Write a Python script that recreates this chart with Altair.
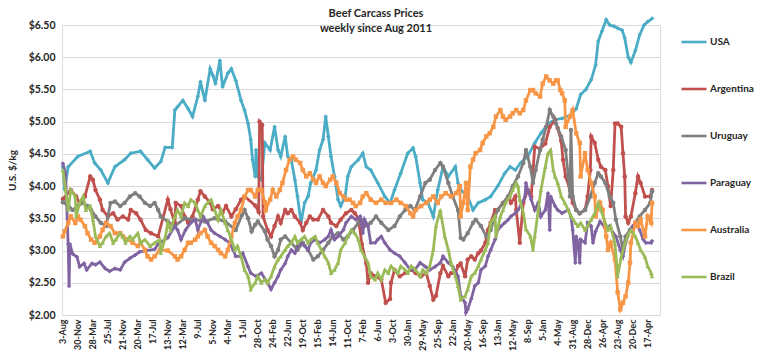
import altair as alt
import pandas as pd

title_lines = ["Beef Carcass Prices", "weekly since Aug 2011"]
y_title = "U.S. $/kg"
x_labels = ["3-Aug", "30-Nov", "28-Mar", "25-Jul", "21-Nov", "20-Mar", "17-Jul", "13-Nov",
            "12-Mar", "9-Jul", "5-Nov", "4-Mar", "1-Jul", "28-Oct", "24-Feb", "22-Jun",
            "19-Oct", "15-Feb", "14-Jun", "11-Oct", "7-Feb", "6-Jun", "3-Oct", "30-Jan",
            "29-May", "25-Sep", "22-Jan", "20-May", "16-Sep", "13-Jan", "12-May", "8-Sep",
            "5-Jan", "4-May", "31-Aug", "28-Dec", "26-Apr", "23-Aug", "20-Dec", "17-Apr"]
label_step_weeks = 17
y_ticks = [2.0, 2.5, 3.0, 3.5, 4.0, 4.5, 5.0, 5.5, 6.0, 6.5]

countries = ["USA", "Argentina", "Uruguay", "Paraguay", "Australia", "Brazil"]
colors = ["#4bacc6", "#c0504d", "#7f7f7f", "#8064a2", "#f79646", "#9bbb59"]
shapes = ["diamond", "circle", "circle", "diamond", "square", "triangle-up"]

# weeks since 3-Aug-2011 and US$/kg
usa_week = [0, 2, 6, 17, 31, 36, 43, 51, 59, 70, 77, 88, 96, 104, 111, 116, 124, 127, 130, 136,
            142, 147, 153, 156, 161, 167, 170, 173, 178, 181, 187, 191, 196, 202, 206, 210, 213, 215, 218, 219,
            221, 225, 229, 235, 240, 244, 247, 252, 255, 259, 263, 266, 270, 274, 278, 281, 287, 291, 295, 298,
            301, 304, 308, 312, 315, 320, 323, 327, 335, 340, 344, 349, 357, 365, 371, 376, 383, 391, 397, 400,
            405, 408, 414, 420, 425, 431, 437, 445, 448, 451, 459, 465, 471, 479, 485, 493, 501, 507, 513, 519,
            527, 535, 542, 550, 558, 566, 575, 582, 587, 593, 599, 604, 607, 611, 616, 620, 625, 629, 634, 637,
            641, 644, 649, 654, 659, 663, 668]
usa_price = [4.3, 3.95, 4.3, 4.46, 4.54, 4.36, 4.25, 4.05, 4.3, 4.41, 4.51, 4.54, 4.41, 4.28, 4.38, 4.6, 4.6, 5.18, 5.23, 5.33,
             5.2, 5.08, 5.39, 5.62, 5.33, 5.82, 5.72, 5.59, 5.95, 5.54, 5.75, 5.82, 5.64, 5.33, 5.18, 4.97, 4.72, 4.41, 4.15, 4.56,
             4.15, 4.1, 4.67, 4.56, 4.92, 4.56, 4.46, 4.77, 4.46, 4.41, 4.1, 3.84, 3.43, 3.74, 3.84, 4.05, 4.25, 4.56, 4.72, 5.08,
             4.77, 4.46, 4.15, 3.79, 3.69, 3.84, 4.15, 4.3, 4.41, 4.51, 4.3, 4.25, 4.05, 3.84, 3.74, 3.94, 4.2, 4.51, 4.59, 4.46,
             4.05, 3.79, 3.74, 3.53, 3.94, 4.3, 4.15, 4.3, 4.05, 3.94, 3.84, 3.63, 3.74, 3.79, 3.84, 4.0, 4.2, 4.3, 4.25, 4.36,
             4.46, 4.67, 4.82, 4.97, 5.03, 5.05, 5.1, 5.2, 5.42, 5.5, 5.65, 5.88, 6.25, 6.4, 6.58, 6.5, 6.48, 6.45, 6.42, 6.3,
             6.0, 5.92, 6.1, 6.35, 6.5, 6.55, 6.6]

arg_week = [0, 9, 15, 19, 25, 31, 34, 37, 42, 45, 51, 57, 62, 68, 74, 77, 83, 88, 94, 100,
            108, 119, 122, 127, 128, 134, 138, 142, 147, 153, 156, 161, 167, 170, 176, 181, 185, 191, 196, 202,
            206, 218, 222, 223, 226, 227, 232, 236, 240, 244, 247, 252, 255, 259, 263, 269, 272, 276, 280, 284,
            289, 295, 301, 304, 310, 315, 321, 327, 331, 335, 339, 344, 346, 349, 354, 361, 366, 371, 372, 376,
            382, 388, 395, 400, 406, 412, 416, 420, 423, 428, 431, 437, 440, 445, 448, 451, 456, 459, 463, 467,
            471, 474, 479, 482, 485, 490, 493, 499, 505, 508, 513, 514, 518, 522, 527, 531, 535, 541, 547, 552,
            558, 561, 565, 567, 570, 575, 578, 582, 586, 592, 595, 598, 599, 603, 607, 610, 615, 618, 621, 624,
            626, 629, 633, 635, 637, 638, 641, 644, 649, 652, 655, 660, 666, 668]
arg_price = [3.8, 3.94, 3.84, 3.74, 3.84, 4.15, 4.1, 3.94, 3.79, 3.63, 3.53, 3.58, 3.48, 3.53, 3.48, 3.63, 3.58, 3.48, 3.32, 3.27,
             3.22, 3.79, 3.64, 3.43, 3.74, 3.69, 3.53, 3.43, 3.53, 3.79, 3.92, 3.84, 3.74, 3.64, 3.69, 3.59, 3.69, 3.53, 3.64, 3.79,
             3.84, 3.7, 3.6, 5.0, 4.95, 3.53, 3.32, 3.22, 3.38, 3.53, 3.43, 3.63, 3.58, 3.63, 3.53, 3.43, 3.32, 3.43, 3.53, 3.48,
             3.48, 3.63, 3.53, 3.43, 3.38, 3.48, 3.58, 3.63, 3.58, 3.5, 3.1, 2.8, 2.5, 2.65, 2.6, 2.55, 2.19, 2.25, 2.5, 2.7,
             2.6, 2.65, 2.7, 2.65, 2.6, 2.65, 2.45, 2.24, 2.3, 2.65, 2.76, 2.6, 2.65, 2.65, 2.76, 2.8, 2.6, 2.86, 2.91, 2.86,
             2.96, 3.0, 3.12, 3.32, 3.43, 3.63, 3.63, 3.74, 3.84, 3.74, 3.84, 3.63, 3.12, 3.74, 3.94, 3.84, 4.61, 4.58, 4.66, 4.92,
             5.03, 4.9, 4.7, 4.41, 4.15, 3.94, 3.74, 3.63, 3.58, 3.63, 3.84, 4.25, 4.77, 4.67, 4.41, 4.3, 4.25, 4.0, 3.69, 4.25,
             4.97, 4.97, 4.92, 4.51, 4.15, 3.53, 3.43, 3.53, 3.89, 4.15, 4.05, 3.84, 3.84, 3.94]

uru_week = [0, 6, 11, 17, 23, 28, 32, 37, 43, 49, 54, 59, 65, 70, 76, 82, 87, 93, 99, 104,
            108, 111, 119, 127, 138, 150, 161, 172, 184, 196, 203, 206, 210, 214, 218, 221, 229, 232, 236, 240,
            244, 247, 252, 259, 266, 272, 278, 284, 289, 295, 301, 306, 312, 318, 323, 329, 335, 338, 342, 349,
            355, 361, 369, 376, 382, 388, 394, 399, 405, 411, 416, 422, 428, 431, 437, 442, 448, 451, 454, 459,
            465, 468, 474, 480, 485, 490, 493, 499, 505, 510, 516, 522, 525, 530, 533, 536, 541, 544, 548, 552,
            556, 559, 565, 570, 573, 575, 576, 578, 582, 586, 592, 598, 603, 607, 610, 615, 620, 624, 627, 632,
            635, 638, 643, 649, 654, 660, 666, 668]
uru_price = [3.75, 3.7, 3.63, 3.69, 3.74, 3.69, 3.63, 3.53, 3.43, 3.38, 3.74, 3.76, 3.69, 3.74, 3.84, 3.89, 3.84, 3.74, 3.69, 3.74,
             3.63, 3.53, 3.45, 3.38, 3.5, 3.48, 3.45, 3.5, 3.45, 3.32, 3.55, 3.63, 3.5, 3.3, 3.4, 3.45, 3.3, 3.17, 3.07, 2.91,
             3.01, 3.17, 3.22, 3.12, 3.01, 3.12, 3.01, 2.86, 2.91, 3.01, 3.12, 3.22, 3.27, 3.17, 3.22, 3.32, 3.43, 3.48, 3.38, 3.43,
             3.53, 3.43, 3.32, 3.38, 3.53, 3.63, 3.69, 3.63, 3.84, 4.05, 4.1, 4.25, 4.36, 4.3, 4.05, 3.84, 3.63, 3.2, 3.17, 3.27,
             3.43, 3.48, 3.38, 3.22, 3.32, 3.53, 3.63, 3.74, 3.84, 4.0, 4.15, 4.36, 4.56, 4.3, 4.05, 4.25, 4.56, 4.72, 4.92, 5.18,
             5.08, 4.97, 4.77, 4.56, 4.15, 3.84, 4.87, 3.84, 3.63, 3.58, 3.63, 3.84, 4.05, 4.2, 4.15, 4.05, 3.84, 3.74, 3.48, 3.22,
             3.01, 3.22, 3.32, 3.43, 3.53, 3.63, 3.74, 3.92]

par_week = [0, 3, 6, 7, 8, 11, 16, 19, 24, 27, 33, 37, 42, 48, 53, 59, 65, 70, 76, 82,
            87, 95, 104, 108, 119, 127, 130, 134, 139, 145, 150, 153, 159, 164, 168, 172, 178, 184, 189, 193,
            196, 201, 204, 210, 213, 219, 225, 232, 236, 240, 244, 247, 252, 255, 259, 263, 266, 270, 274, 278,
            281, 286, 291, 297, 301, 304, 308, 312, 318, 321, 327, 332, 337, 340, 342, 346, 349, 354, 357, 361,
            365, 371, 376, 382, 388, 394, 399, 405, 411, 416, 422, 428, 431, 437, 442, 448, 451, 456, 457, 459,
            463, 467, 471, 474, 479, 482, 485, 490, 493, 497, 501, 505, 508, 513, 516, 519, 524, 525, 527, 531,
            535, 539, 542, 547, 550, 552, 553, 558, 561, 566, 573, 576, 578, 581, 582, 584, 586, 587, 592, 595,
            599, 601, 604, 609, 615, 620, 624, 627, 632, 635, 638, 643, 646, 650, 654, 658, 661, 667, 668]
par_price = [4.35, 4.2, 3.1, 2.45, 3.1, 2.95, 2.9, 2.75, 2.8, 2.7, 2.8, 2.78, 2.82, 2.72, 2.68, 2.72, 2.7, 2.82, 2.88, 2.93,
             2.98, 3.0, 3.02, 3.1, 3.2, 3.38, 3.32, 3.17, 3.32, 3.43, 3.48, 3.32, 3.53, 3.43, 3.32, 3.27, 3.22, 3.17, 3.12, 3.01,
             2.91, 2.91, 2.96, 2.75, 2.65, 2.6, 2.65, 2.5, 2.4, 2.5, 2.6, 2.7, 2.8, 2.91, 3.01, 2.96, 3.07, 3.12, 3.07, 3.01,
             3.12, 3.17, 3.12, 3.17, 3.22, 3.32, 3.17, 3.22, 3.32, 3.43, 3.53, 3.48, 3.53, 3.27, 3.48, 3.38, 3.12, 3.12, 3.17, 3.22,
             3.12, 3.01, 2.96, 2.91, 2.81, 2.7, 2.7, 2.81, 2.75, 2.7, 2.75, 2.81, 2.91, 2.81, 2.75, 2.6, 2.3, 2.19, 2.04, 2.09,
             2.25, 2.45, 2.5, 2.7, 2.76, 2.91, 3.01, 3.17, 3.32, 3.38, 3.43, 3.48, 3.53, 3.58, 3.63, 3.69, 3.84, 4.05, 3.94, 3.79,
             3.63, 3.74, 3.53, 3.63, 3.89, 3.32, 3.84, 3.69, 3.63, 3.58, 3.63, 3.53, 3.32, 2.81, 3.22, 3.12, 2.81, 3.17, 3.12, 3.43,
             3.38, 3.12, 3.3, 3.45, 3.35, 3.38, 3.27, 3.22, 3.01, 2.91, 3.12, 3.32, 3.38, 3.43, 3.32, 3.17, 3.12, 3.12, 3.15]

aus_week = [0, 2, 6, 9, 14, 17, 20, 25, 28, 32, 36, 42, 45, 49, 54, 59, 65, 68, 74, 79,
            85, 88, 93, 96, 100, 104, 110, 119, 127, 130, 134, 138, 142, 145, 150, 153, 156, 161, 164, 168,
            172, 176, 179, 184, 187, 191, 195, 198, 202, 206, 210, 213, 218, 221, 225, 229, 230, 235, 238, 242,
            246, 249, 253, 257, 261, 264, 269, 272, 276, 280, 284, 287, 291, 295, 298, 303, 306, 310, 314, 318,
            321, 325, 329, 332, 337, 340, 344, 349, 355, 361, 366, 372, 378, 383, 389, 394, 397, 400, 406, 412,
            416, 420, 425, 429, 434, 440, 446, 450, 451, 454, 457, 459, 462, 465, 468, 473, 476, 480, 484, 488,
            491, 496, 499, 502, 507, 510, 514, 518, 522, 525, 530, 533, 536, 541, 544, 548, 552, 556, 559, 561,
            564, 566, 569, 570, 575, 578, 582, 586, 587, 592, 595, 599, 603, 604, 609, 612, 616, 618, 621, 626,
            629, 632, 635, 638, 641, 643, 644, 649, 652, 655, 660, 663, 667, 668]
aus_price = [3.22, 3.3, 3.43, 3.53, 3.43, 3.53, 3.48, 3.38, 3.27, 3.17, 3.12, 3.22, 3.32, 3.43, 3.38, 3.27, 3.27, 3.22, 3.17, 3.12,
             3.07, 3.12, 3.01, 2.91, 2.86, 2.91, 3.01, 3.0, 2.91, 2.86, 2.91, 3.01, 3.12, 3.12, 3.17, 3.22, 3.27, 3.32, 3.22, 3.12,
             3.07, 3.01, 2.96, 2.91, 3.01, 3.22, 3.43, 3.53, 3.63, 3.84, 3.94, 3.94, 3.84, 3.94, 3.94, 3.75, 3.63, 3.79, 3.94, 3.84,
             3.94, 4.05, 4.25, 4.41, 4.46, 4.41, 4.36, 4.25, 4.15, 4.2, 4.1, 4.05, 4.15, 4.05, 4.0, 4.1, 4.15, 4.05, 3.89, 3.84,
             3.79, 3.79, 3.74, 3.69, 3.74, 3.84, 3.89, 3.79, 3.74, 3.79, 3.74, 3.74, 3.79, 3.74, 3.69, 3.58, 3.53, 3.63, 3.69, 3.74,
             3.79, 3.84, 3.74, 3.84, 3.89, 3.84, 3.89, 4.0, 3.53, 3.74, 4.05, 3.63, 4.3, 4.41, 4.51, 4.56, 4.67, 4.77, 4.82, 4.92,
             5.08, 5.18, 5.08, 5.03, 5.08, 5.13, 5.18, 5.13, 5.18, 5.33, 5.49, 5.49, 5.44, 5.39, 5.59, 5.7, 5.64, 5.59, 5.64, 5.64,
             5.49, 5.44, 5.33, 4.92, 5.08, 5.18, 4.82, 4.67, 4.15, 4.51, 4.25, 4.05, 3.84, 3.53, 3.74, 3.63, 3.22, 3.01, 3.12, 2.86,
             2.35, 2.09, 2.19, 2.29, 2.5, 2.81, 3.12, 3.43, 3.38, 3.48, 3.22, 3.53, 3.43, 3.74]

bra_week = [0, 3, 6, 9, 14, 15, 19, 23, 26, 31, 34, 37, 42, 45, 49, 53, 57, 60, 65, 68,
            71, 76, 79, 85, 88, 93, 99, 104, 110, 111, 116, 119, 122, 127, 130, 134, 138, 142, 145, 150,
            153, 156, 161, 164, 168, 172, 176, 179, 184, 187, 191, 195, 198, 202, 206, 210, 213, 218, 221, 225,
            229, 232, 236, 240, 244, 247, 252, 255, 259, 263, 266, 270, 274, 278, 281, 286, 289, 293, 297, 301,
            304, 308, 312, 315, 320, 323, 327, 331, 335, 338, 342, 346, 349, 354, 357, 361, 365, 369, 372, 376,
            380, 383, 388, 391, 395, 400, 405, 408, 412, 416, 420, 423, 428, 429, 433, 437, 440, 445, 448, 451,
            456, 459, 463, 467, 471, 474, 479, 482, 485, 490, 491, 496, 499, 502, 507, 510, 514, 516, 518, 522,
            525, 530, 533, 535, 539, 542, 547, 550, 553, 556, 558, 561, 565, 569, 573, 576, 581, 584, 587, 592,
            595, 599, 603, 607, 610, 615, 618, 621, 626, 629, 633, 637, 641, 644, 649, 652, 655, 660, 663, 667,
            668]
bra_price = [4.25, 3.95, 3.63, 3.94, 3.84, 3.53, 3.74, 3.84, 3.63, 3.69, 3.48, 3.22, 3.07, 3.12, 3.22, 3.27, 3.12, 3.17, 3.27, 3.22,
             3.12, 3.22, 3.17, 3.27, 3.12, 3.17, 3.07, 3.12, 3.17, 2.96, 3.2, 3.43, 3.32, 3.53, 3.63, 3.53, 3.74, 3.69, 3.79, 3.74,
             3.63, 3.53, 3.69, 3.74, 3.79, 3.63, 3.48, 3.63, 3.43, 3.32, 3.17, 3.01, 3.07, 2.91, 2.7, 2.6, 2.4, 2.5, 2.6, 2.5,
             2.55, 2.5, 2.6, 2.75, 2.86, 2.91, 3.01, 3.07, 3.12, 3.22, 3.12, 3.17, 3.22, 3.12, 3.17, 3.22, 3.12, 3.01, 2.91, 2.81,
             2.65, 2.7, 2.81, 3.01, 3.12, 3.22, 3.32, 3.27, 3.17, 3.01, 2.91, 2.81, 2.6, 2.55, 2.65, 2.55, 2.7, 2.65, 2.76, 2.7,
             2.65, 2.76, 2.7, 2.65, 2.76, 2.7, 2.6, 2.7, 2.65, 2.76, 3.01, 3.38, 3.63, 3.53, 3.22, 3.01, 2.81, 2.6, 2.45, 2.24,
             2.29, 2.4, 2.6, 2.65, 2.76, 2.86, 3.01, 3.12, 3.43, 3.53, 3.22, 3.53, 3.63, 3.74, 3.84, 3.94, 4.05, 4.0, 3.79, 3.59,
             3.33, 3.22, 3.01, 3.22, 3.63, 3.94, 4.3, 4.51, 4.56, 4.25, 4.15, 4.05, 3.84, 3.74, 3.63, 3.53, 3.43, 3.38, 3.43, 3.32,
             3.38, 3.48, 3.58, 3.74, 3.63, 3.43, 3.32, 3.38, 3.1, 2.6, 2.9, 3.1, 3.25, 3.32, 3.22, 3.12, 3.01, 2.9, 2.76, 2.65,
             2.6]

series = {
    "USA": (usa_week, usa_price),
    "Argentina": (arg_week, arg_price),
    "Uruguay": (uru_week, uru_price),
    "Paraguay": (par_week, par_price),
    "Australia": (aus_week, aus_price),
    "Brazil": (bra_week, bra_price),
}

rows = []
for c in countries:
    wk, pr = series[c]
    for a, b in zip(wk, pr):
        rows.append({"country": c, "week": a, "price": b})
df = pd.DataFrame(rows)

FONT = "Lato"
TXT = "#262626"
label_js = "[" + ",".join("'" + s + "'" for s in x_labels) + "]"
tick_vals = [i * label_step_weeks for i in range(len(x_labels))]

x_enc = alt.X("week:Q",
              scale=alt.Scale(domain=[-1, 677], nice=False, zero=False),
              axis=alt.Axis(values=tick_vals,
                            labelExpr=label_js + "[round(datum.value/" + str(label_step_weeks) + ")]",
                            labelAngle=-90, grid=False, ticks=False,
                            domainColor="#d9d9d9", domainWidth=1,
                            labelFont=FONT, labelFontSize=9, labelFontWeight="bold",
                            labelColor=TXT, labelPadding=4, title=None,
                            labelOverlap=False, labelBound=False, labelFlush=False))
y_enc = alt.Y("price:Q",
              scale=alt.Scale(domain=[2, 6.5], nice=False, zero=False),
              axis=alt.Axis(values=y_ticks, format="$.2f", grid=True, gridColor="#d9d9d9",
                            domain=False, ticks=False,
                            labelFont=FONT, labelFontSize=10.5, labelFontWeight="bold",
                            labelColor=TXT, labelPadding=7,
                            title=y_title, titleFont=FONT, titleFontSize=10,
                            titleFontWeight="bold", titleColor=TXT, titlePadding=11))

color_scale = alt.Scale(domain=countries, range=colors)
legend = alt.Legend(title=None, orient="none", legendX=618, legendY=3, direction="vertical",
                    symbolType="stroke", symbolSize=625, symbolStrokeWidth=2.6,
                    rowPadding=27, labelFont=FONT, labelFontSize=10, labelFontWeight="bold",
                    labelColor=TXT, labelOffset=2)

layers = []
for c, col, shp in zip(countries, colors, shapes):
    base = alt.Chart(df).transform_filter(alt.datum.country == c)
    ln = base.mark_line(strokeWidth=2.8).encode(
        x=x_enc, y=y_enc,
        color=alt.Color("country:N", scale=color_scale, sort=countries, legend=legend),
        order=alt.Order("week:Q"))
    pt = base.mark_point(filled=True, size=20, opacity=1, color=col, shape=shp).encode(
        x=x_enc, y=y_enc)
    layers += [ln, pt]

chart = alt.layer(*layers).properties(
    width=598, height=290,
    title=alt.TitleParams(text=title_lines, font=FONT, fontSize=11, fontWeight="bold",
                          color=TXT, anchor="middle", dx=15, offset=-21, lineHeight=15),
    autosize=alt.AutoSizeParams(type="none"),
    padding={"left": 62, "top": 25, "right": 104, "bottom": 40},
).configure_view(stroke=None).configure(background="white")

chart.save("out.html", embed_options={"renderer": "svg", "actions": False})
